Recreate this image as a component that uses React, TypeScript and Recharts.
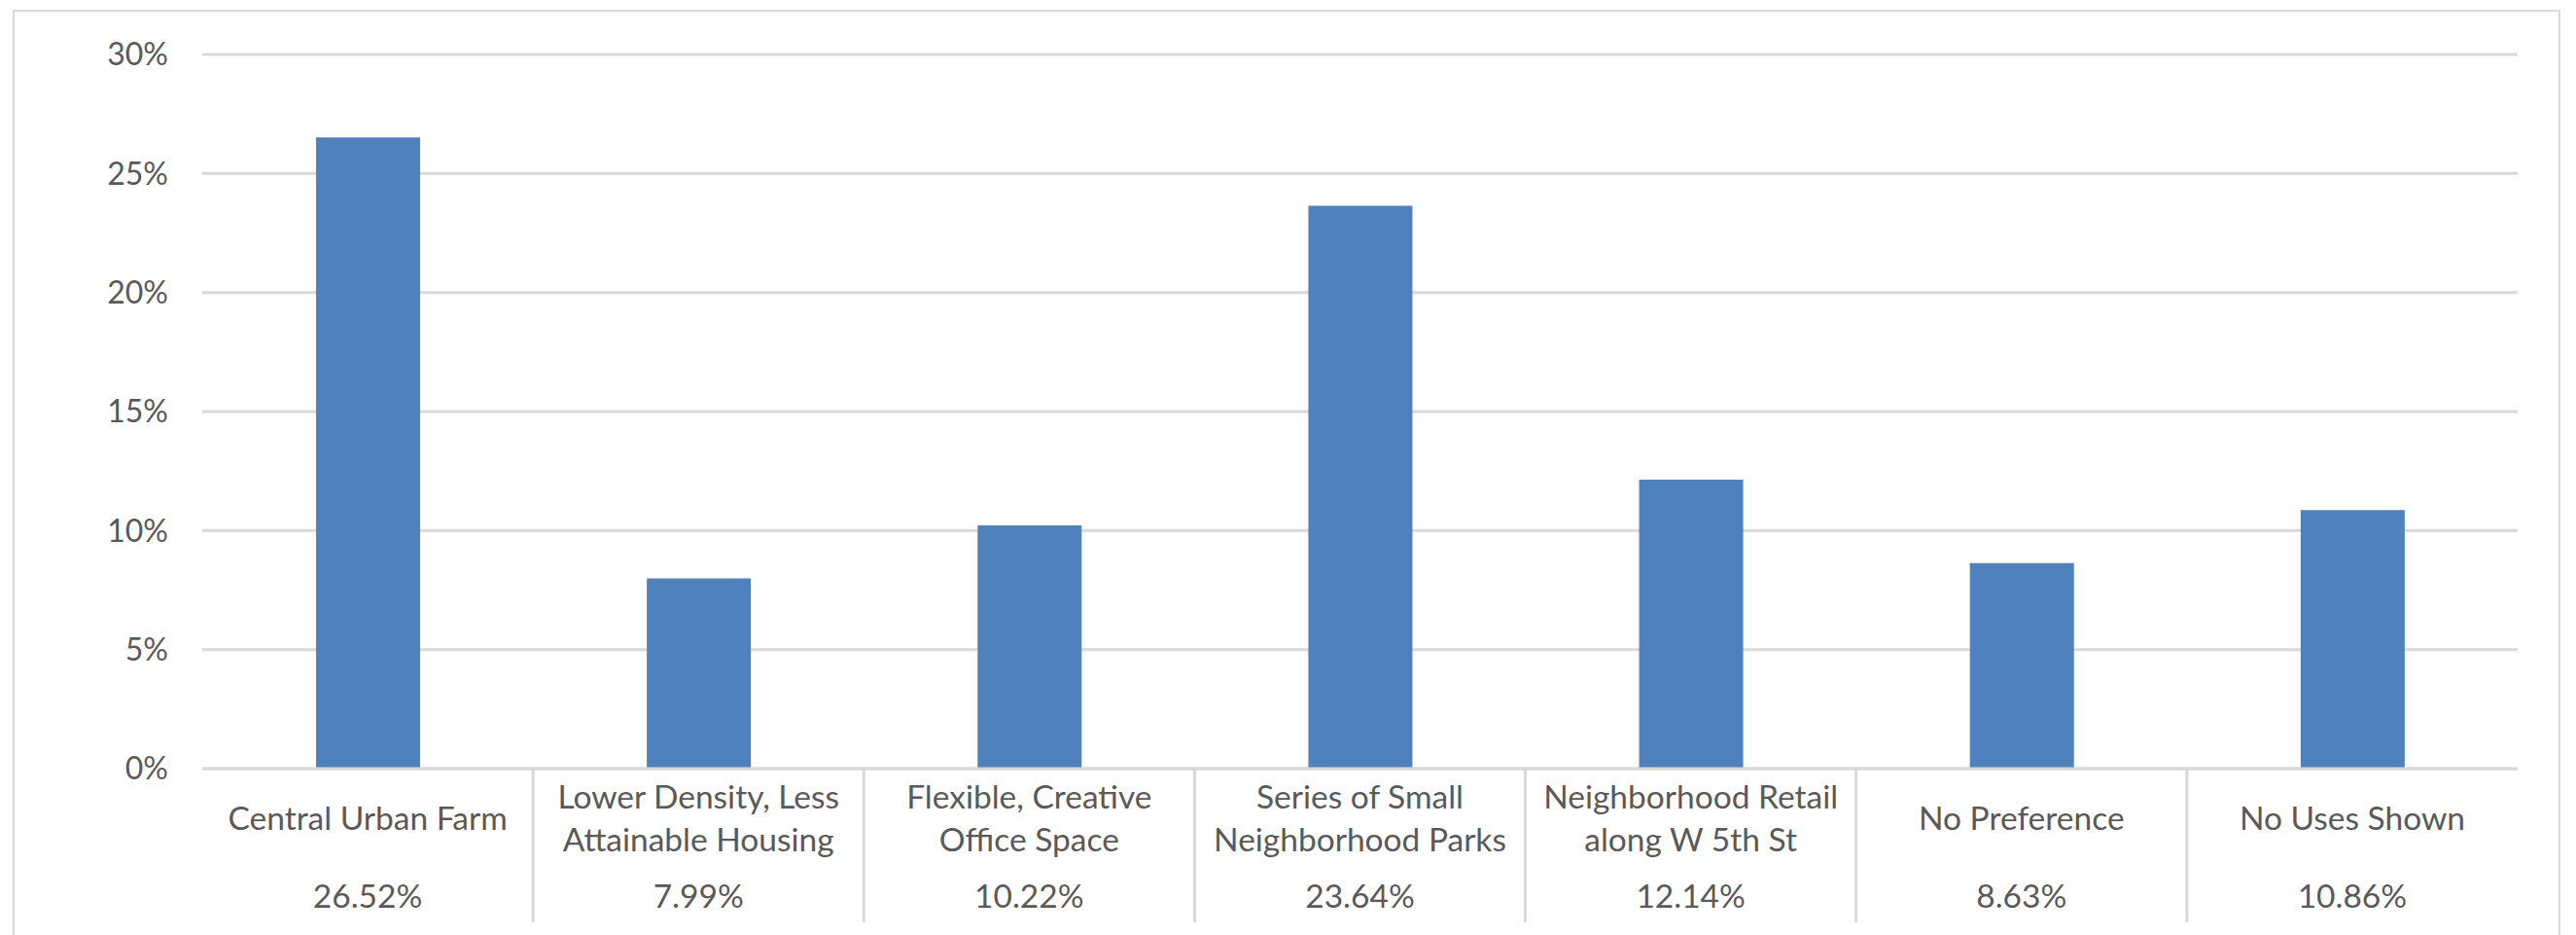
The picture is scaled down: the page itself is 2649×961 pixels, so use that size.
import React from 'react';
import { BarChart, Bar, XAxis, YAxis, CartesianGrid } from 'recharts';

const categoryLines: string[][] = [
  ['Central Urban Farm'],
  ['Lower Density, Less', 'Attainable Housing'],
  ['Flexible, Creative', 'Office Space'],
  ['Series of Small', 'Neighborhood Parks'],
  ['Neighborhood Retail', 'along W 5th St'],
  ['No Preference'],
  ['No Uses Shown'],
];
const categories = categoryLines.map(l => l.join(' '));
const shares = [26.52, 7.99, 10.22, 23.64, 12.14, 8.63, 10.86];
const yTicks = [0, 5, 10, 15, 20, 25, 30];

const data = categories.map((name, i) => ({ name, value: shares[i] }));

const W = 2649;
const H = 961;
const TEXT = '#595959';
const LINE = '#d9d9d9';
const FONT = 'Lato, "Liberation Sans", sans-serif';

const CategoryTick = (props: any) => {
  const { x, y, payload } = props;
  const i = categories.indexOf(payload.value);
  const lines = categoryLines[i] ?? [payload.value];
  const half = payload.offset ?? (W - 208 - 60) / categories.length / 2;
  const startY = lines.length === 1 ? y + 50 : y + 28;
  return (
    <g>
      {lines.map((l, k) => (
        <text
          key={k}
          x={x}
          y={startY + k * 44}
          textAnchor="middle"
          dominantBaseline="central"
          fill={TEXT}
          fontSize={33.5}
          fontFamily={FONT}
        >
          {l}
        </text>
      ))}
      <text
        x={x}
        y={y + 130}
        textAnchor="middle"
        dominantBaseline="central"
        fill={TEXT}
        fontSize={33.5}
        fontFamily={FONT}
      >
        {shares[i].toFixed(2)}%
      </text>
      {i < categories.length - 1 && (
        <line x1={x + half} x2={x + half} y1={y} y2={y + 158} stroke={LINE} strokeWidth={3} />
      )}
    </g>
  );
};

export default function App() {
  return (
    <div style={{ position: 'relative', width: W, height: H, overflow: 'hidden', background: '#fff' }}>
      <style>{'body{margin:0}'}</style>
      <div
        style={{
          position: 'absolute',
          left: 13,
          top: 10,
          width: 2620,
          height: 1000,
          border: `2px solid ${LINE}`,
          boxSizing: 'border-box',
          pointerEvents: 'none',
        }}
      />
      <BarChart width={W} height={H} data={data} margin={{ top: 56, right: 60, left: 0, bottom: 0 }}>
        <CartesianGrid vertical={false} stroke={LINE} strokeWidth={3} />
        <YAxis
          width={208}
          domain={[0, 30]}
          ticks={yTicks}
          tickFormatter={(v: number) => `${v}%`}
          axisLine={false}
          tickLine={false}
          tickSize={0}
          tickMargin={35}
          tick={{ fill: TEXT, fontSize: 32, fontFamily: FONT }}
        />
        <XAxis
          dataKey="name"
          height={171}
          interval={0}
          tickLine={false}
          tickSize={0}
          tickMargin={0}
          axisLine={{ stroke: LINE, strokeWidth: 3 }}
          tick={<CategoryTick />}
        />
        <Bar dataKey="value" fill="#4f81bd" barSize={107} isAnimationActive={false} />
      </BarChart>
    </div>
  );
}
